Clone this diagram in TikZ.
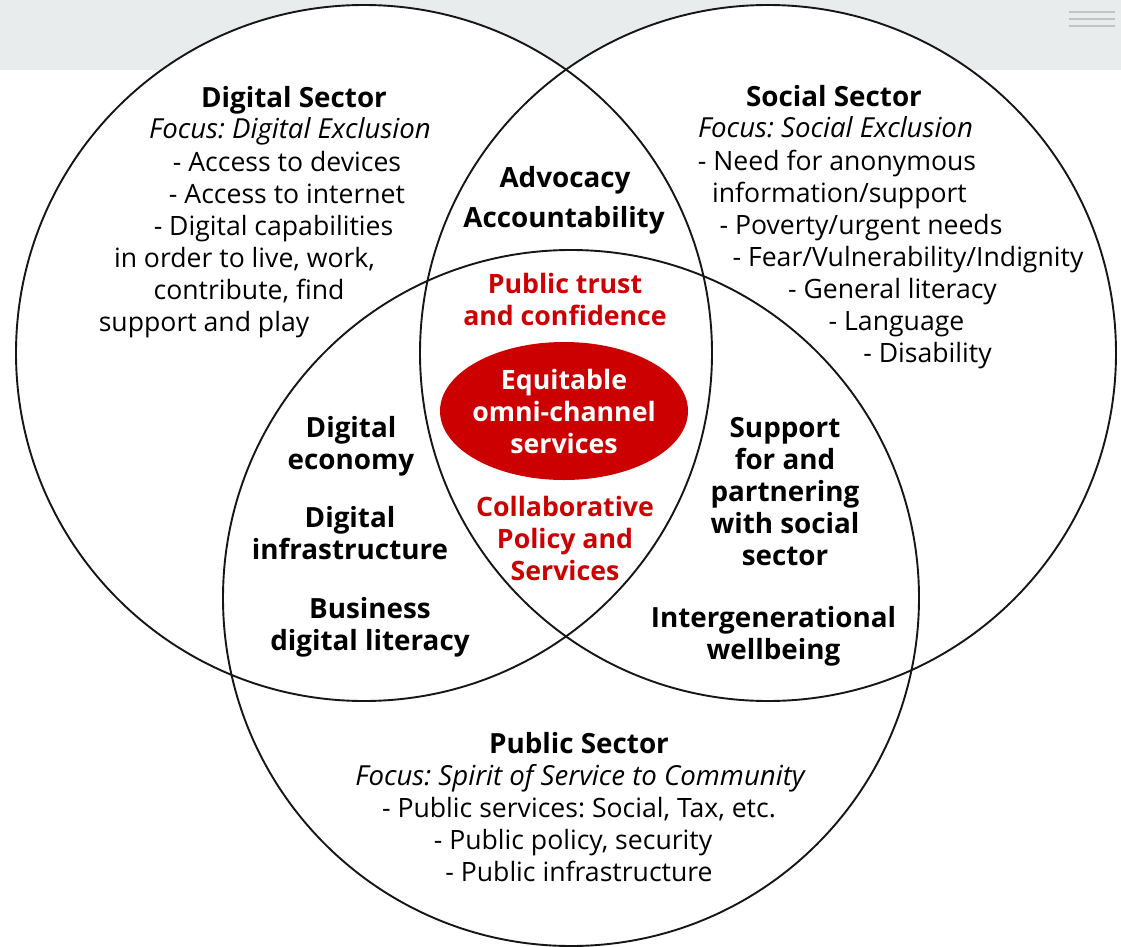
\documentclass[tikz,border=0pt]{standalone}
\usepackage{fontspec}
\setmainfont{Open Sans}
\usetikzlibrary{shapes.geometric}
\definecolor{hdr}{HTML}{E8ECED}
\definecolor{vred}{HTML}{CC0000}
\definecolor{ink}{HTML}{161616}
\definecolor{burger}{HTML}{C2C2C2}
\frenchspacing
\begin{document}
\begin{tikzpicture}[x=1pt,y=-1pt,
  every node/.style={inner sep=0pt, outer sep=0pt},
  reg/.style={font=\fontsize{26.6}{32}\selectfont, align=center, text=black},
  bld/.style={font=\fontsize{27.8}{32}\selectfont\bfseries, align=center, text=black},
  itl/.style={font=\fontsize{27.6}{32}\selectfont\itshape, align=center, text=black},
  redb/.style={font=\fontsize{26.7}{32}\selectfont\bfseries, align=center, text=vred},
  ring/.style={draw=ink, line width=1.9pt},
  burgerline/.style={draw=burger, line width=2.2pt}
]
\useasboundingbox (0,0) rectangle (1121,947);
\fill[hdr] (0,0) rectangle (1121,70);
\draw[burgerline] (1069,12) -- (1115,12);
\draw[burgerline] (1069,19) -- (1115,19);
\draw[burgerline] (1069,26) -- (1115,26);

% circles
\fill[white] (364,353) circle (348);
\fill[white] (768,353) circle (348);
\fill[white] (571,598) circle (348);
\draw[ring] (364,353) circle (348);
\draw[ring] (768,353) circle (348);
\draw[ring] (571,598) circle (348);

% Digital sector
\node[bld, anchor=base] (d1) at (294,108) {Digital Sector};
\node[itl, anchor=base] (d2) at (290,139) {Focus: Digital Exclusion};
\node[reg, anchor=base] (d3) at (287,171) {- Access to devices};
\node[reg, anchor=base] (d4) at (287,203) {- Access to internet};
\node[reg, anchor=base] (d5) at (273.5,235) {- Digital capabilities};
\node[reg, anchor=base] (d6) at (244.5,267) {in order to live, work,};
\node[reg, anchor=base] (d7) at (249,299) {contribute, find};
\node[reg, anchor=base] (d8) at (204,331) {support and play};

% Social sector
\node[bld, anchor=base] (s1) at (834,107) {Social Sector};
\node[itl, anchor=base] (s2) at (835.5,138) {Focus: Social Exclusion};
\node[reg, anchor=base] (s3) at (837,170) {- Need for anonymous};
\node[reg, anchor=base] (s4) at (839.5,202) {information/support};
\node[reg, anchor=base] (s5) at (861,234) {- Poverty/urgent needs};
\node[reg, anchor=base] (s6) at (908,266) {- Fear/Vulnerability/Indignity};
\node[reg, anchor=base] (s7) at (892.5,298) {- General literacy};
\node[reg, anchor=base] (s8) at (896.5,330) {- Language};
\node[reg, anchor=base] (s9) at (927.5,362) {- Disability};

% Public sector
\node[bld, anchor=base] (p1) at (579,753) {Public Sector};
\node[itl, anchor=base] (p2) at (580,785) {Focus: Spirit of Service to Community};
\node[reg, anchor=base] (p3) at (579,817) {- Public services: Social, Tax, etc.};
\node[reg, anchor=base] (p4) at (573,849) {- Public policy, security};
\node[reg, anchor=base] (p5) at (579,881) {- Public infrastructure};

% overlaps
\node[bld, anchor=base] (adv) at (565,187) {Advocacy};
\node[bld, anchor=base] (acc) at (564,227) {Accountability};
\node[redb] (trust) at (565,299) {Public trust\\and confidence};
\fill[vred] (564,411) ellipse [x radius=124, y radius=69];
\node[font=\fontsize{26.7}{32}\selectfont\bfseries, text=white, align=center] (eq) at (564,411)
      {Equitable\\omni-channel\\services};
\node[redb] (coll) at (565,538) {Collaborative\\Policy and\\Services};
\node[bld] (decon) at (351,446) {Digital\\economy};
\node[bld] (dinf) at (350,533) {Digital\\infrastructure};
\node[bld] (bdl) at (370,627) {Business\\digital literacy};
\node[bld] (supp) at (785,492) {Support\\for and\\partnering\\with social\\sector};
\node[bld] (inter) at (773.5,636) {Intergenerational\\wellbeing};
\end{tikzpicture}
\end{document}
